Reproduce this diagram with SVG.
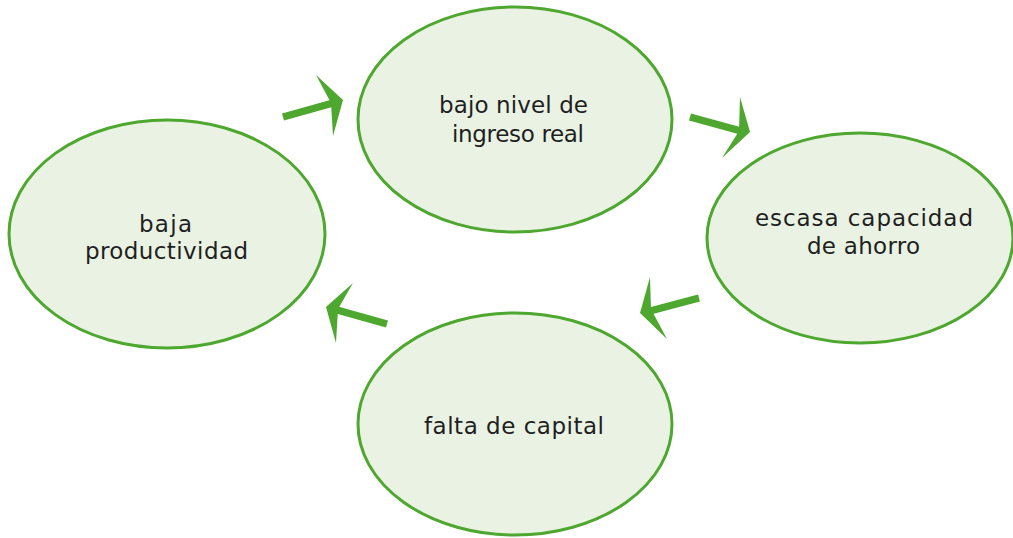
<svg xmlns="http://www.w3.org/2000/svg" width="1013" height="538" viewBox="0 0 1013 538">
<style>
.node ellipse{fill:#e9f2e3;stroke:#4ea72e;stroke-width:3}
.node text{font-family:"DejaVu Sans","Liberation Sans",sans-serif;font-size:23px;fill:#1f1f1f}
.shaft{stroke:#4ea72e;stroke-width:7.5;fill:none}
.head{fill:#4ea72e}
</style>
<rect width="1013" height="538" fill="#ffffff"/>
<g id="connectors">
  <g id="arrow-1">
    <line class="shaft" x1="283" y1="117" x2="333" y2="103"/>
    <polygon class="head" points="343,100 316,75 331,103 333,136"/>
  </g>
  <g id="arrow-2">
    <line class="shaft" x1="690" y1="117" x2="741" y2="131"/>
    <polygon class="head" points="750,132 740,97 739,131 722,158"/>
  </g>
  <g id="arrow-3">
    <line class="shaft" x1="699" y1="298" x2="650" y2="311"/>
    <polygon class="head" points="640,313 650,277 651,309 667,339"/>
  </g>
  <g id="arrow-4">
    <line class="shaft" x1="387" y1="324" x2="337" y2="310"/>
    <polygon class="head" points="326,307 353,283 338,309 336,343"/>
  </g>
</g>
<g id="node-ingreso" class="node">
  <ellipse cx="515" cy="119.5" rx="157" ry="112.5"/>
  <text x="439" y="113" textLength="149" lengthAdjust="spacing">bajo nivel de</text>
  <text x="452" y="142" textLength="132" lengthAdjust="spacing">ingreso real</text>
</g>
<g id="node-ahorro" class="node">
  <ellipse cx="860" cy="238" rx="153" ry="105"/>
  <text x="755" y="226" textLength="218" lengthAdjust="spacing">escasa capacidad</text>
  <text x="807" y="254" textLength="113" lengthAdjust="spacing">de ahorro</text>
</g>
<g id="node-capital" class="node">
  <ellipse cx="515" cy="424" rx="157" ry="111"/>
  <text x="424" y="434" textLength="180" lengthAdjust="spacing">falta de capital</text>
</g>
<g id="node-productividad" class="node">
  <ellipse cx="167" cy="234" rx="158" ry="114"/>
  <text x="139" y="232" textLength="53" lengthAdjust="spacing">baja</text>
  <text x="85" y="259" textLength="163" lengthAdjust="spacing">productividad</text>
</g>
</svg>
